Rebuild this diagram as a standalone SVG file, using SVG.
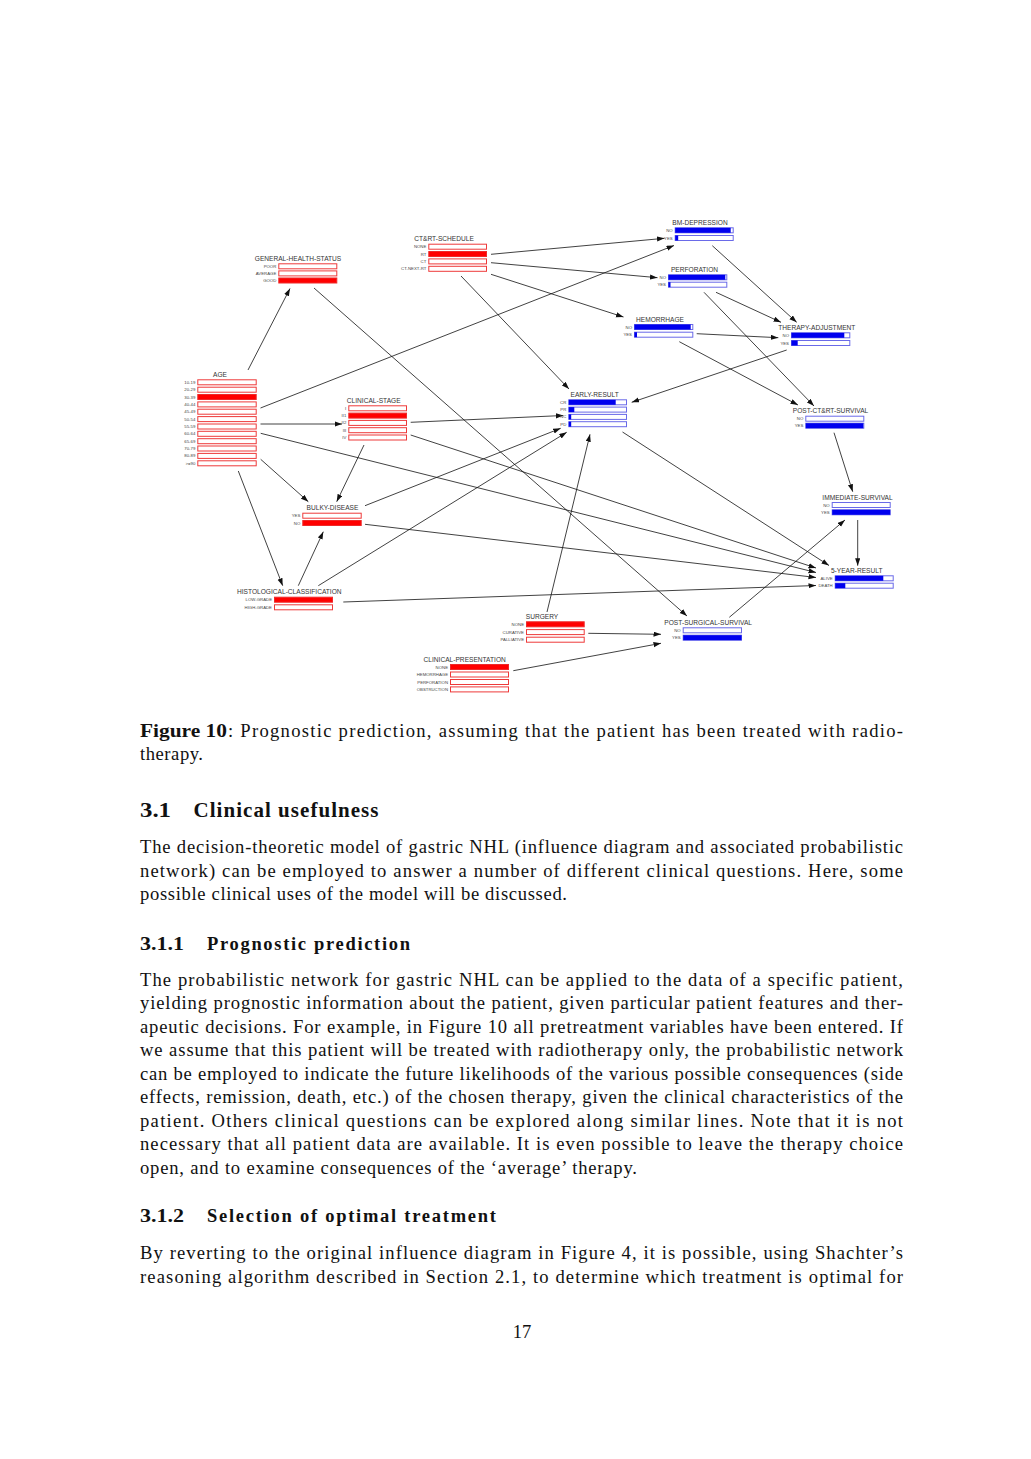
<svg xmlns="http://www.w3.org/2000/svg" width="1031" height="1459" viewBox="0 0 1031 1459">
<style>
.t{font-family:"Liberation Sans",Arial,sans-serif;font-size:6.6px;fill:#333;text-anchor:middle}
.l{font-family:"Liberation Sans",Arial,sans-serif;font-size:4.3px;fill:#444;text-anchor:end}
.re{fill:#fff;stroke:#ee3a3a;stroke-width:1}
.rf{fill:#ff0000;stroke:#ee2a2a;stroke-width:1}
.be{fill:#fff;stroke:#6a6ae8;stroke-width:1}
.bf{fill:#0000ee;stroke:none}
.c line{stroke:#111;stroke-width:0.8;marker-end:url(#ah)}
.p{font-family:"Liberation Serif","Times New Roman",serif;font-size:18.6px;fill:#111}
.h{font-family:"Liberation Serif","Times New Roman",serif;font-weight:bold;fill:#111}
</style>
<defs>
<marker id="ah" markerUnits="userSpaceOnUse" markerWidth="8" markerHeight="6" refX="7.5" refY="2.6" orient="auto">
<path d="M0,0 L7.5,2.6 L0,5.2 z" fill="#111"/>
</marker>
</defs>
<rect width="1031" height="1459" fill="#fff"/>

<g class="c" id="connectors">
<line x1="248" y1="370" x2="290" y2="288.5"/>
<line x1="314" y1="288" x2="687" y2="616"/>
<line x1="260.5" y1="408" x2="674" y2="245.5"/>
<line x1="491" y1="254.3" x2="664.5" y2="238.3"/>
<line x1="491" y1="262.7" x2="657.5" y2="277.7"/>
<line x1="491" y1="274.3" x2="623.5" y2="317"/>
<line x1="461" y1="276" x2="569" y2="389"/>
<line x1="712.3" y1="245.7" x2="796.7" y2="322.3"/>
<line x1="716" y1="292.3" x2="781" y2="322.3"/>
<line x1="704" y1="292.3" x2="814" y2="406"/>
<line x1="696.7" y1="333.7" x2="778.3" y2="337.7"/>
<line x1="679.3" y1="341.7" x2="798" y2="405"/>
<line x1="786.7" y1="350" x2="631.7" y2="402.3"/>
<line x1="260.5" y1="424" x2="342" y2="424"/>
<line x1="410.7" y1="422.3" x2="563.3" y2="415.5"/>
<line x1="410.7" y1="435" x2="816" y2="568"/>
<line x1="364" y1="445" x2="336.7" y2="501.7"/>
<line x1="260.7" y1="459.3" x2="308.3" y2="501.7"/>
<line x1="238.3" y1="471" x2="282.7" y2="585.7"/>
<line x1="260.7" y1="433.3" x2="816" y2="572.5"/>
<line x1="298.3" y1="585.7" x2="323.3" y2="531.7"/>
<line x1="318.3" y1="585.7" x2="566.7" y2="432.3"/>
<line x1="365" y1="505.7" x2="560.7" y2="428.3"/>
<line x1="365" y1="524.3" x2="816" y2="577.5"/>
<line x1="343.3" y1="602" x2="816" y2="585.5"/>
<line x1="547" y1="612" x2="590" y2="434.3"/>
<line x1="588.3" y1="633.3" x2="661" y2="634.3"/>
<line x1="513.3" y1="670.7" x2="661" y2="643.3"/>
<line x1="729.3" y1="617.3" x2="845" y2="520"/>
<line x1="834" y1="432.7" x2="852.7" y2="491.7"/>
<line x1="857.7" y1="520" x2="857.7" y2="565.7"/>
<line x1="622.5" y1="432" x2="829" y2="565.5"/>
</g>

<g id="general-health-status">
<text class="t" x="298" y="261">GENERAL-HEALTH-STATUS</text>
<text class="l" x="276.3" y="267.8">POOR</text><rect class="re" x="278.8" y="263.8" width="58" height="5"/>
<text class="l" x="276.3" y="274.9">AVERAGE</text><rect class="re" x="278.8" y="270.9" width="58" height="5"/>
<text class="l" x="276.3" y="282">GOOD</text><rect class="rf" x="278.8" y="278" width="58" height="5"/>
</g>

<g id="ct-rt-schedule">
<text class="t" x="444" y="241.4">CT&amp;RT-SCHEDULE</text>
<text class="l" x="426.3" y="248.2">NONE</text><rect class="re" x="428.8" y="244.2" width="57.7" height="5"/>
<text class="l" x="426.3" y="255.5">RT</text><rect class="rf" x="428.8" y="251.5" width="57.7" height="5"/>
<text class="l" x="426.3" y="262.9">CT</text><rect class="re" x="428.8" y="258.9" width="57.7" height="5"/>
<text class="l" x="426.3" y="270.3">CT-NEXT-RT</text><rect class="re" x="428.8" y="266.3" width="57.7" height="5"/>
</g>

<g id="bm-depression">
<text class="t" x="700" y="225">BM-DEPRESSION</text>
<text class="l" x="672.7" y="231.8">NO</text><rect class="be" x="675.2" y="227.8" width="58" height="5"/><rect class="bf" x="675.2" y="227.8" width="55.5" height="5"/>
<text class="l" x="672.7" y="239.5">YES</text><rect class="be" x="675.2" y="235.5" width="58" height="5"/><rect class="bf" x="675.2" y="235.5" width="3" height="5"/>
</g>

<g id="perforation">
<text class="t" x="694.5" y="272">PERFORATION</text>
<text class="l" x="666" y="278.8">NO</text><rect class="be" x="668.5" y="274.8" width="58.3" height="5"/><rect class="bf" x="668.5" y="274.8" width="56.8" height="5"/>
<text class="l" x="666" y="286.2">YES</text><rect class="be" x="668.5" y="282.2" width="58.3" height="5"/><rect class="bf" x="668.5" y="282.2" width="2" height="5"/>
</g>

<g id="hemorrhage">
<text class="t" x="660" y="321.7">HEMORRHAGE</text>
<text class="l" x="632" y="328.5">NO</text><rect class="be" x="634.5" y="324.5" width="58.3" height="5"/><rect class="bf" x="634.5" y="324.5" width="56.2" height="5"/>
<text class="l" x="632" y="336.2">YES</text><rect class="be" x="634.5" y="332.2" width="58.3" height="5"/><rect class="bf" x="634.5" y="332.2" width="2.5" height="5"/>
</g>

<g id="therapy-adjustment">
<text class="t" x="816.8" y="330">THERAPY-ADJUSTMENT</text>
<text class="l" x="789" y="336.8">NO</text><rect class="be" x="791.5" y="332.8" width="58.3" height="5"/><rect class="bf" x="791.5" y="332.8" width="52.8" height="5"/>
<text class="l" x="789" y="344.5">YES</text><rect class="be" x="791.5" y="340.5" width="58.3" height="5"/><rect class="bf" x="791.5" y="340.5" width="6.2" height="5"/>
</g>

<g id="age">
<text class="t" x="220" y="377">AGE</text>
<text class="l" x="195.3" y="383.8">10-19</text><rect class="re" x="197.8" y="379.8" width="58.4" height="5"/>
<text class="l" x="195.3" y="391.2">20-29</text><rect class="re" x="197.8" y="387.2" width="58.4" height="5"/>
<text class="l" x="195.3" y="398.5">30-39</text><rect class="rf" x="197.8" y="394.5" width="58.4" height="5"/>
<text class="l" x="195.3" y="405.9">40-44</text><rect class="re" x="197.8" y="401.9" width="58.4" height="5"/>
<text class="l" x="195.3" y="413.2">45-49</text><rect class="re" x="197.8" y="409.2" width="58.4" height="5"/>
<text class="l" x="195.3" y="420.6">50-54</text><rect class="re" x="197.8" y="416.6" width="58.4" height="5"/>
<text class="l" x="195.3" y="428">55-59</text><rect class="re" x="197.8" y="424" width="58.4" height="5"/>
<text class="l" x="195.3" y="435.3">60-64</text><rect class="re" x="197.8" y="431.3" width="58.4" height="5"/>
<text class="l" x="195.3" y="442.7">65-69</text><rect class="re" x="197.8" y="438.7" width="58.4" height="5"/>
<text class="l" x="195.3" y="450">70-79</text><rect class="re" x="197.8" y="446" width="58.4" height="5"/>
<text class="l" x="195.3" y="457.4">80-89</text><rect class="re" x="197.8" y="453.4" width="58.4" height="5"/>
<text class="l" x="195.3" y="464.8">&gt;=90</text><rect class="re" x="197.8" y="460.8" width="58.4" height="5"/>
</g>

<g id="clinical-stage">
<text class="t" x="373.7" y="403">CLINICAL-STAGE</text>
<text class="l" x="346.3" y="409.8">I</text><rect class="re" x="348.8" y="405.8" width="57.7" height="5"/>
<text class="l" x="346.3" y="417.1">II1</text><rect class="rf" x="348.8" y="413.1" width="57.7" height="5"/>
<text class="l" x="346.3" y="424.4">II2</text><rect class="re" x="348.8" y="420.4" width="57.7" height="5"/>
<text class="l" x="346.3" y="431.7">III</text><rect class="re" x="348.8" y="427.7" width="57.7" height="5"/>
<text class="l" x="346.3" y="439">IV</text><rect class="re" x="348.8" y="435" width="57.7" height="5"/>
</g>

<g id="early-result">
<text class="t" x="594.7" y="397">EARLY-RESULT</text>
<text class="l" x="566.3" y="403.8">CR</text><rect class="be" x="568.8" y="399.8" width="57.7" height="5"/><rect class="bf" x="568.8" y="399.8" width="46.9" height="5"/>
<text class="l" x="566.3" y="411.1">PR</text><rect class="be" x="568.8" y="407.1" width="57.7" height="5"/><rect class="bf" x="568.8" y="407.1" width="5.5" height="5"/>
<text class="l" x="566.3" y="418.4">NC</text><rect class="be" x="568.8" y="414.4" width="57.7" height="5"/><rect class="bf" x="568.8" y="414.4" width="2.4" height="5"/>
<text class="l" x="566.3" y="425.7">PD</text><rect class="be" x="568.8" y="421.7" width="57.7" height="5"/><rect class="bf" x="568.8" y="421.7" width="2.4" height="5"/>
</g>

<g id="post-ct-rt-survival">
<text class="t" x="830.5" y="413.4">POST-CT&amp;RT-SURVIVAL</text>
<text class="l" x="803.3" y="420.2">NO</text><rect class="be" x="805.8" y="416.2" width="58" height="5"/>
<text class="l" x="803.3" y="427.2">YES</text><rect class="be" x="805.8" y="423.2" width="58" height="5"/><rect class="bf" x="805.8" y="423.2" width="57.5" height="5"/>
</g>

<g id="immediate-survival">
<text class="t" x="857.5" y="499.7">IMMEDIATE-SURVIVAL</text>
<text class="l" x="829.7" y="506.5">NO</text><rect class="be" x="832.2" y="502.5" width="58" height="5"/>
<text class="l" x="829.7" y="513.8">YES</text><rect class="be" x="832.2" y="509.8" width="58" height="5"/><rect class="bf" x="832.2" y="509.8" width="58" height="5"/>
</g>

<g id="five-year-result">
<text class="t" x="856.7" y="573">5-YEAR-RESULT</text>
<text class="l" x="832.7" y="579.8">ALIVE</text><rect class="be" x="835.2" y="575.8" width="58" height="5"/><rect class="bf" x="835.2" y="575.8" width="48.1" height="5"/>
<text class="l" x="832.7" y="587.2">DEATH</text><rect class="be" x="835.2" y="583.2" width="58" height="5"/><rect class="bf" x="835.2" y="583.2" width="10.1" height="5"/>
</g>

<g id="bulky-disease">
<text class="t" x="332.5" y="510.4">BULKY-DISEASE</text>
<text class="l" x="300.3" y="517.2">YES</text><rect class="re" x="302.8" y="513.2" width="58.4" height="5"/>
<text class="l" x="300.3" y="524.5">NO</text><rect class="rf" x="302.8" y="520.5" width="58.4" height="5"/>
</g>

<g id="histological-classification">
<text class="t" x="289.3" y="594.4">HISTOLOGICAL-CLASSIFICATION</text>
<text class="l" x="272" y="601.2">LOW-GRADE</text><rect class="rf" x="274.5" y="597.2" width="58" height="5"/>
<text class="l" x="272" y="608.8">HIGH-GRADE</text><rect class="re" x="274.5" y="604.8" width="58" height="5"/>
</g>

<g id="surgery">
<text class="t" x="542" y="619">SURGERY</text>
<text class="l" x="524" y="625.8">NONE</text><rect class="rf" x="526.5" y="621.8" width="57.7" height="5"/>
<text class="l" x="524" y="633.6">CURATIVE</text><rect class="re" x="526.5" y="629.6" width="57.7" height="5"/>
<text class="l" x="524" y="641.2">PALLIATIVE</text><rect class="re" x="526.5" y="637.2" width="57.7" height="5"/>
</g>

<g id="post-surgical-survival">
<text class="t" x="708.2" y="625">POST-SURGICAL-SURVIVAL</text>
<text class="l" x="680.7" y="631.8">NO</text><rect class="be" x="683.2" y="627.8" width="58.3" height="5"/>
<text class="l" x="680.7" y="639.2">YES</text><rect class="be" x="683.2" y="635.2" width="58.3" height="5"/><rect class="bf" x="683.2" y="635.2" width="58.3" height="5"/>
</g>

<g id="clinical-presentation">
<text class="t" x="464.7" y="661.7">CLINICAL-PRESENTATION</text>
<text class="l" x="448" y="668.5">NONE</text><rect class="rf" x="450.5" y="664.5" width="58" height="5"/>
<text class="l" x="448" y="676">HEMORRHAGE</text><rect class="re" x="450.5" y="672" width="58" height="5"/>
<text class="l" x="448" y="683.5">PERFORATION</text><rect class="re" x="450.5" y="679.5" width="58" height="5"/>
<text class="l" x="448" y="690.9">OBSTRUCTION</text><rect class="re" x="450.5" y="686.9" width="58" height="5"/>
</g>

<g id="page-text">
<text class="h" x="140" y="737" font-size="18" textLength="87" lengthAdjust="spacingAndGlyphs">Figure 10</text>
<text class="p" x="228" y="737" textLength="675" lengthAdjust="spacing">: Prognostic prediction, assuming that the patient has been treated with radio-</text>
<text class="p" x="140" y="760" textLength="63" lengthAdjust="spacing">therapy.</text>

<text class="h" x="140" y="817" font-size="21" textLength="31" lengthAdjust="spacingAndGlyphs">3.1</text>
<text class="h" x="193.5" y="817" font-size="21" textLength="185" lengthAdjust="spacing">Clinical usefulness</text>

<text class="p" x="140" y="853" textLength="763" lengthAdjust="spacing">The decision-theoretic model of gastric NHL (influence diagram and associated probabilistic</text>
<text class="p" x="140" y="877" textLength="763" lengthAdjust="spacing">network) can be employed to answer a number of different clinical questions. Here, some</text>
<text class="p" x="140" y="900" textLength="427" lengthAdjust="spacing">possible clinical uses of the model will be discussed.</text>

<text class="h" x="140" y="950" font-size="18.5" textLength="44" lengthAdjust="spacingAndGlyphs">3.1.1</text>
<text class="h" x="207" y="950" font-size="18.5" textLength="203" lengthAdjust="spacing">Prognostic prediction</text>

<text class="p" x="140" y="986" textLength="763" lengthAdjust="spacing">The probabilistic network for gastric NHL can be applied to the data of a specific patient,</text>
<text class="p" x="140" y="1009" textLength="763" lengthAdjust="spacing">yielding prognostic information about the patient, given particular patient features and ther-</text>
<text class="p" x="140" y="1033" textLength="763" lengthAdjust="spacing">apeutic decisions. For example, in Figure 10 all pretreatment variables have been entered. If</text>
<text class="p" x="140" y="1056" textLength="763" lengthAdjust="spacing">we assume that this patient will be treated with radiotherapy only, the probabilistic network</text>
<text class="p" x="140" y="1080" textLength="763" lengthAdjust="spacing">can be employed to indicate the future likelihoods of the various possible consequences (side</text>
<text class="p" x="140" y="1103" textLength="763" lengthAdjust="spacing">effects, remission, death, etc.) of the chosen therapy, given the clinical characteristics of the</text>
<text class="p" x="140" y="1127" textLength="763" lengthAdjust="spacing">patient. Others clinical questions can be explored along similar lines. Note that it is not</text>
<text class="p" x="140" y="1150" textLength="763" lengthAdjust="spacing">necessary that all patient data are available. It is even possible to leave the therapy choice</text>
<text class="p" x="140" y="1174" textLength="497" lengthAdjust="spacing">open, and to examine consequences of the ‘average’ therapy.</text>

<text class="h" x="140" y="1222" font-size="18.5" textLength="44" lengthAdjust="spacingAndGlyphs">3.1.2</text>
<text class="h" x="207" y="1222" font-size="18.5" textLength="289" lengthAdjust="spacing">Selection of optimal treatment</text>

<text class="p" x="140" y="1259" textLength="763" lengthAdjust="spacing">By reverting to the original influence diagram in Figure 4, it is possible, using Shachter’s</text>
<text class="p" x="140" y="1283" textLength="763" lengthAdjust="spacing">reasoning algorithm described in Section 2.1, to determine which treatment is optimal for</text>

<text class="p" x="522" y="1338" text-anchor="middle">17</text>
</g>
</svg>
